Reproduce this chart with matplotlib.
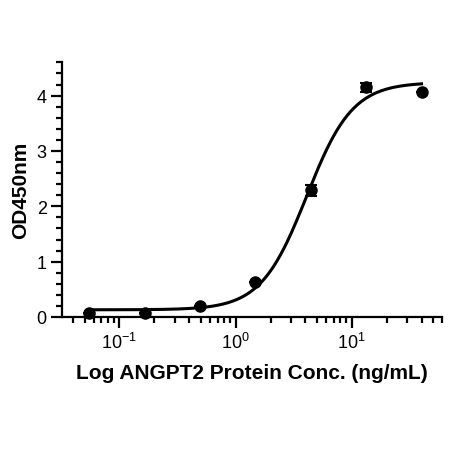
import numpy as np
import matplotlib
matplotlib.use("Agg")
import matplotlib.pyplot as plt
from matplotlib.ticker import LogLocator, MultipleLocator, NullFormatter

# Data (ng/mL, OD450)
conc = [0.0549, 0.165, 0.494, 1.48, 4.44, 13.33, 40.0]
od = [0.07, 0.08, 0.19, 0.63, 2.29, 4.15, 4.06]
od_err = [0.0, 0.0, 0.0, 0.0, 0.10, 0.08, 0.0]

# Fitted 4-parameter logistic curve parameters
fit_bottom = 0.13
fit_top = 4.24
fit_ec50 = 4.1
fit_hill = 2.2

plt.rcParams['font.family'] = ['Liberation Sans', 'DejaVu Sans']
plt.rcParams['mathtext.fontset'] = 'custom'
plt.rcParams['mathtext.rm'] = 'Liberation Sans'
plt.rcParams['mathtext.it'] = 'Liberation Sans:italic'
plt.rcParams['mathtext.bf'] = 'Liberation Sans:bold'

fig = plt.figure(figsize=(4.52, 4.52), dpi=100)
ax = fig.add_axes([62/452, 1-318/452, 380/452, (318-63.4)/452])

xc = np.logspace(np.log10(conc[0]), np.log10(conc[-1]), 300)
yc = fit_bottom + (fit_top - fit_bottom) / (1 + (fit_ec50 / xc) ** fit_hill)
ax.plot(xc, yc, color='black', lw=2.2, zorder=2)

ax.errorbar(conc, od, yerr=od_err, fmt='o', color='black', ms=8,
            capsize=4, elinewidth=1.5, capthick=1.5, zorder=3, clip_on=False)

ax.set_xscale('log')
ax.set_xlim(0.032, 60)
ax.set_ylim(0, 4.6)

for s in ['top', 'right']:
    ax.spines[s].set_visible(False)
for s in ['left', 'bottom']:
    ax.spines[s].set_linewidth(1.6)

ax.xaxis.set_minor_locator(LogLocator(base=10, subs=np.arange(2, 10), numticks=20))
ax.xaxis.set_minor_formatter(NullFormatter())
ax.set_xticks([0.1, 1, 10])
ax.set_xticklabels([r'10$^{\mathregular{-1}}$', r'10$^{\mathregular{0}}$', r'10$^{\mathregular{1}}$'])
ax.yaxis.set_major_locator(MultipleLocator(1))
ax.yaxis.set_minor_locator(MultipleLocator(0.2))

ax.tick_params(axis='both', which='major', direction='out', length=8, width=1.6,
               labelsize=13, pad=3)
ax.tick_params(axis='both', which='minor', direction='out', length=4.5, width=1.6)

ax.set_xlabel('Log ANGPT2 Protein Conc. (ng/mL)', fontsize=15, fontweight='bold', labelpad=8)
ax.set_ylabel('OD450nm', fontsize=15, fontweight='bold', labelpad=5)

fig.savefig('out.png', dpi=100)
